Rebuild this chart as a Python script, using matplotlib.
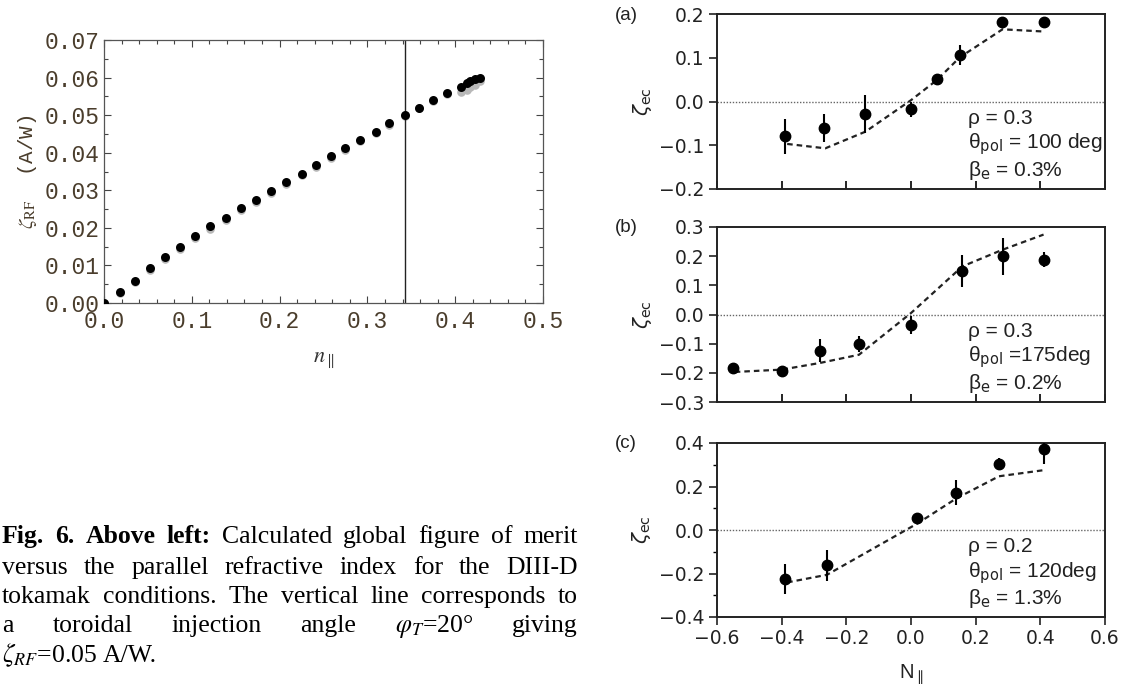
import numpy as np
import matplotlib.pyplot as plt

# ---- left panel: calculated figure of merit vs n_par ----
n_par = [0.0, 0.0178, 0.0352, 0.0521, 0.0695, 0.0869, 0.1038, 0.1212, 0.1386,
         0.156, 0.173, 0.190, 0.2076, 0.225, 0.242, 0.259, 0.275, 0.292,
         0.310, 0.325, 0.343, 0.359, 0.375, 0.391, 0.407, 0.413, 0.417,
         0.422, 0.428]
zeta_rf = [0.0, 0.0030, 0.0059, 0.0092, 0.0122, 0.0148, 0.0177, 0.0204, 0.0226,
           0.0253, 0.0275, 0.0299, 0.0321, 0.0344, 0.0366, 0.0390, 0.0412, 0.0435,
           0.0455, 0.0478, 0.0500, 0.0520, 0.0540, 0.0558, 0.0574, 0.0585, 0.0592,
           0.0595, 0.0599]
# grey shadow series slightly below the black one
zeta_rf_grey = [0.0, 0.0027, 0.0056, 0.0088, 0.0117, 0.0143, 0.0172, 0.0198, 0.0221,
                0.0248, 0.0270, 0.0294, 0.0316, 0.0340, 0.0362, 0.0386, 0.0408, 0.0431,
                0.0452, 0.0475, 0.0498, 0.0518, 0.0538, 0.0556, 0.0562, 0.0568, 0.0575,
                0.0580, 0.0590]
n_phi20 = 0.343

# ---- right panels: measured zeta_ec vs N_par ----
n_a = [-0.39, -0.268, -0.141, 0.0015, 0.08, 0.151, 0.281, 0.41]
z_a = [-0.079, -0.06, -0.029, -0.018, 0.051, 0.106, 0.182, 0.182]
e_a = [0.04, 0.032, 0.043, 0.018, 0.01, 0.023, 0.0, 0.0]
fx_a = [-0.383, -0.265, -0.141, 0.0, 0.08, 0.151, 0.283, 0.41]
fy_a = [-0.097, -0.107, -0.069, 0.003, 0.049, 0.101, 0.165, 0.160]

n_b = [-0.55, -0.40, -0.281, -0.161, 0.0, 0.159, 0.283, 0.41]
z_b = [-0.183, -0.195, -0.124, -0.101, -0.036, 0.150, 0.199, 0.188]
e_b = [0.01, 0.015, 0.04, 0.028, 0.03, 0.054, 0.063, 0.025]
fx_b = [-0.545, -0.40, -0.281, -0.161, 0.0, 0.159, 0.283, 0.41]
fy_b = [-0.197, -0.189, -0.166, -0.138, 0.005, 0.165, 0.222, 0.274]

n_c = [-0.39, -0.26, 0.02, 0.14, 0.272, 0.41]
z_c = [-0.226, -0.163, 0.053, 0.171, 0.305, 0.374]
e_c = [0.068, 0.072, 0.02, 0.057, 0.025, 0.07]
fx_c = [-0.383, -0.26, 0.02, 0.14, 0.272, 0.41]
fy_c = [-0.241, -0.206, 0.03, 0.145, 0.247, 0.275]

panel_tags = ['(a)', '(b)', '(c)']
panel_notes = [['ρ = 0.3', 'θ$_{\\rm pol}$ = 100 deg', 'β$_{\\rm e}$ = 0.3%'],
               ['ρ = 0.3', 'θ$_{\\rm pol}$ =175deg', 'β$_{\\rm e}$ = 0.2%'],
               ['ρ = 0.2', 'θ$_{\\rm pol}$ = 120deg', 'β$_{\\rm e}$ = 1.3%']]

W, H = 1127, 690
fig = plt.figure(figsize=(W / 100, H / 100), dpi=100)

def px_box(x0, y0, x1, y1):
    return [x0 / W, 1 - y1 / H, (x1 - x0) / W, (y1 - y0) / H]

# ---------------- left chart ----------------
brown = '#4a3d2c'
mono = 'Liberation Mono'
ax = fig.add_axes(px_box(104, 40, 543, 303))
ax.scatter(n_par, zeta_rf_grey, s=38, color='#b8b8b8', zorder=2, linewidths=0)
ax.scatter(n_par, zeta_rf, s=42, color='black', zorder=3, linewidths=0)
ax.axvline(n_phi20, color='#222222', lw=1.0)
ax.set_xlim(0, 0.5)
ax.set_ylim(0, 0.07)
ax.set_xticks(np.arange(0, 0.51, 0.1))
ax.set_yticks(np.arange(0, 0.071, 0.01))
ax.set_xticks(np.arange(0, 0.5, 0.02), minor=True)
ax.set_yticks(np.arange(0, 0.07, 0.005), minor=True)
ax.set_xticklabels(['%.1f' % v for v in np.arange(0, 0.51, 0.1)])
ax.set_yticklabels(['%.2f' % v for v in np.arange(0, 0.071, 0.01)])
ax.tick_params(which='both', direction='in', top=True, right=True,
               color='#444444', width=0.8)
ax.tick_params(which='major', length=5, labelsize=16.5, labelcolor=brown, pad=5)
ax.tick_params(axis='y', which='major', pad=3)
ax.tick_params(which='minor', length=3)
for lab in ax.get_xticklabels() + ax.get_yticklabels():
    lab.set_fontfamily(mono)
for sp in ax.spines.values():
    sp.set_color('#555555')
    sp.set_linewidth(0.9)
ax.set_xlabel(r'$n_{\parallel}$', fontsize=16, color='#333333', labelpad=12,
              math_fontfamily='stix')
ax.set_ylabel(r'$\zeta_{\rm RF}$  (A/W)', fontsize=15, color=brown,
              family=mono, math_fontfamily='stix', labelpad=4)

# ---------------- right panels ----------------
boxes = [(717, 14, 1105, 189), (717, 227, 1105, 402), (717, 443, 1105, 617)]
data = [(n_a, z_a, e_a, fx_a, fy_a, 0.2, 0.1),
        (n_b, z_b, e_b, fx_b, fy_b, 0.3, 0.1),
        (n_c, z_c, e_c, fx_c, fy_c, 0.4, 0.2)]
for i, (box, (nx, zy, ey, fx, fy, lim, step)) in enumerate(zip(boxes, data)):
    a = fig.add_axes(px_box(*box))
    a.axhline(0, color='#666666', lw=1.0, ls=(0, (1, 1.2)), zorder=1)
    a.plot(fx, fy, color='#222222', lw=1.6, ls=(0, (2.5, 1.8)), zorder=2)
    a.errorbar(nx, zy, yerr=ey, fmt='o', color='black', ms=7.5, elinewidth=1.5,
               capsize=0, zorder=3)
    a.set_xlim(-0.6, 0.6)
    a.set_ylim(-lim, lim)
    a.set_xticks(np.arange(-0.6, 0.61, 0.2))
    ticks = np.arange(-lim, lim + 1e-9, step)
    a.set_yticks(ticks)
    a.set_yticklabels([('%.1f' % v).replace('-', '\u2212') for v in ticks])
    for sp in a.spines.values():
        sp.set_linewidth(1.4)
        sp.set_color('#222222')
    a.tick_params(axis='y', direction='out', length=6, width=1.2,
                  labelsize=13.5, pad=3, colors='#222222')
    if i < 2:
        a.tick_params(axis='x', direction='in', length=6, width=1.2,
                      labelbottom=False)
    else:
        a.set_yticks(np.arange(-0.4, 0.41, 0.1), minor=True)
        a.tick_params(axis='y', which='minor', direction='out', length=3,
                      width=1.0)
        a.tick_params(axis='x', direction='out', length=6, width=1.2,
                      labelsize=13.5, pad=3, colors='#222222')
        a.set_xticklabels([('%.1f' % v).replace('-', '\u2212')
                           for v in np.arange(-0.6, 0.61, 0.2)])
        a.set_xlabel(r'N$_{\parallel}$', fontsize=14.5, labelpad=10,
                     color='#222222', family='Liberation Sans')
    a.set_ylabel(r'$\zeta_{\rm ec}$', fontsize=14.5, labelpad=4,
                 color='#222222', math_fontfamily='dejavusans')
    for k, note in enumerate(panel_notes[i]):
        a.text(0.648, 0.405 - k * 0.15, note, transform=a.transAxes,
               fontsize=15, family='Liberation Sans', color='#222222',
               va='center', math_fontfamily='dejavusans')
    fig.text(626 / W, 1 - (box[1] + 1) / H, panel_tags[i], fontsize=13.5,
             family='Liberation Sans', ha='center', va='center',
             color='#222222')

# ---------------- caption ----------------
serif = 'Liberation Serif'
bold = dict(family=serif, fontsize=18.5, fontweight='bold')
norm = dict(family=serif, fontsize=18.5, math_fontfamily='stix')
lines = [
    ([('Fig.', bold), ('6.', bold), ('Above', bold), ('left:', bold),
      ('Calculated', norm), ('global', norm), ('figure', norm), ('of', norm),
      ('merit', norm)], True),
    ([(w, norm) for w in 'versus the parallel refractive index for the DIII-D'.split()], True),
    ([(w, norm) for w in 'tokamak conditions. The vertical line corresponds to'.split()], True),
    ([('a', norm), ('toroidal', norm), ('injection', norm), ('angle', norm),
      (r'$\varphi_T$=20°', norm), ('giving', norm)], True),
    ([(r'$\zeta_{RF}$=0.05', norm), ('A/W.', norm)], False),
]
x_left, x_right = 2, 578
y_base = [543, 574, 603, 632, 662]
renderer = fig.canvas.get_renderer()
for (words, justify), yl in zip(lines, y_base):
    texts = [fig.text(0, 1 - yl / H, w, va='baseline', ha='left', **st)
             for w, st in words]
    widths = [t.get_window_extent(renderer).width for t in texts]
    if justify:
        gap = (x_right - x_left - sum(widths)) / (len(texts) - 1)
    else:
        gap = 5
    x = x_left
    for t, wd in zip(texts, widths):
        t.set_x(x / W)
        x += wd + gap

fig.savefig('out.png', dpi=100, facecolor='white')
